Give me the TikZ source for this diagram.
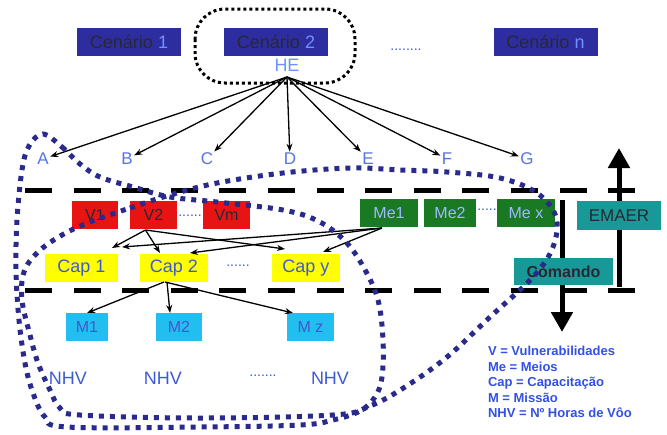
\documentclass[tikz,border=0pt]{standalone}
\usepackage{fontspec}
\setmainfont{Liberation Sans}
\usetikzlibrary{arrows.meta,calc}
\definecolor{cenbox}{RGB}{45,45,160}
\definecolor{cendark}{RGB}{40,40,50}
\definecolor{cenlight}{RGB}{110,145,255}
\definecolor{letblue}{RGB}{85,115,230}
\definecolor{vred}{RGB}{232,20,20}
\definecolor{megreen}{RGB}{25,122,35}
\definecolor{metext}{RGB}{160,185,255}
\definecolor{teal}{RGB}{25,152,152}
\definecolor{capyel}{RGB}{255,255,0}
\definecolor{captext}{RGB}{60,90,215}
\definecolor{mcyan}{RGB}{35,190,240}
\definecolor{mtext}{RGB}{70,85,205}
\definecolor{dotblue}{RGB}{42,42,140}
\definecolor{legblue}{RGB}{50,80,230}
\newcommand\myfs[1]{\fontsize{#1}{#1}\selectfont}
\begin{document}
\begin{tikzpicture}[x=1pt,y=-1pt,
  every node/.style={inner sep=0pt, outer sep=0pt},
  cenbx/.style={fill=cenbox, minimum width=104pt, minimum height=28pt, font=\myfs{18}},
  letter/.style={text=letblue, font=\myfs{17}, inner sep=1.5pt},
  vbox/.style={fill=vred, minimum height=28pt, text=cendark, font=\myfs{16}},
  mebox/.style={fill=megreen, minimum height=28pt, text=metext, font=\myfs{16}},
  tealbox/.style={fill=teal, text=cendark, font=\myfs{17}},
  capbox/.style={fill=capyel, minimum height=28pt, text=captext, font=\myfs{18}},
  mbox/.style={fill=mcyan, minimum height=28pt, text=mtext, font=\myfs{16}},
  nhv/.style={text=captext, font=\myfs{18}},
  dots/.style={text=captext, font=\myfs{14}},
  arr/.style={-{Stealth[length=8pt,width=6pt]}, line width=1.3pt, black},
  dashline/.style={line width=5pt, dash pattern=on 27pt off 21.6pt},
  bigarr/.style={line width=5pt, -{Triangle[length=20pt,width=21pt]}},
  bdot/.style={line width=5pt, draw=dotblue, dash pattern=on 5pt off 6pt},
  kdot/.style={line width=3pt, dash pattern=on 3pt off 3pt}
]
\useasboundingbox (0,0) rectangle (667,434);

% dashed horizontal lines
\coordinate (d1a) at (25,190); \coordinate (d1b) at (640,190);
\coordinate (d2a) at (25,290); \coordinate (d2b) at (640,290);
\draw[dashline] (d1a) -- (d1b);
\draw[dashline] (d2a) -- (d2b);

% big vertical arrows
\coordinate (downs) at (562,200); \coordinate (downe) at (562,332);
\coordinate (ups) at (619,287); \coordinate (upe) at (619,148);
\draw[bigarr] (downs) -- (downe);
\draw[bigarr] (ups) -- (upe);

% scenarios
\node[cenbx] (cen1) at (129,42) {{\color{cendark}Cenário} {\color{cenlight}1}};
\node[cenbx] (cen2) at (276,42) {{\color{cendark}Cenário} {\color{cenlight}2}};
\node[cenbx] (cenn) at (545.5,42) {{\color{cendark}Cenário} {\color{cenlight}n}};
\node[dots] (cendots) at (406,50) {........};
\node[text=cenlight, font=\myfs{18}] (he) at (287,65) {HE};
\coordinate (hub) at (287,77);

% letters
\node[letter] (A) at (43,159) {A};
\node[letter] (B) at (127,159) {B};
\node[letter] (C) at (207,159) {C};
\node[letter] (D) at (290,159) {D};
\node[letter] (E) at (368,159) {E};
\node[letter] (F) at (447,159) {F};
\node[letter] (G) at (527,159) {G};
\foreach \l in {A,B,C,D,E,F,G} \draw[arr] (hub) -- (\l);

% vulnerabilities
\node[vbox, minimum width=46pt] (v1) at (95,215) {V1};
\node[vbox, minimum width=47pt] (v2) at (153.5,215) {V2};
\node[vbox, minimum width=47pt] (vm) at (226.5,215) {Vm};
\node[dots] (vdots) at (190,216) {......};

% means
\node[mebox, minimum width=58pt] (me1) at (389,213) {Me1};
\node[mebox, minimum width=52pt] (me2) at (450,213) {Me2};
\node[mebox, minimum width=58pt] (mex) at (526,213) {Me x};
\node[dots] (medots) at (487,210) {.....};

% command boxes
\node[tealbox, minimum width=84pt, minimum height=29pt] (emaer) at (619,215.5) {EMAER};
\node[tealbox, minimum width=99pt, minimum height=27pt, font=\bfseries\myfs{16}] (comando) at (563.5,271.5) {Comando};

% capacities
\node[capbox, minimum width=73pt] (cap1) at (81.5,268) {Cap 1};
\node[capbox, minimum width=68pt] (cap2) at (174,268) {Cap 2};
\node[capbox, minimum width=68pt] (capy) at (306,268) {Cap y};
\node[dots] (capdots) at (238,266) {......};

% missions
\node[mbox, minimum width=42pt] (m1) at (87,327) {M1};
\node[mbox, minimum width=46pt] (m2) at (179,327) {M2};
\node[mbox, minimum width=47pt] (mz) at (310.5,327) {M z};

% NHV
\node[nhv] (n1) at (68,378) {NHV};
\node[nhv] (n2) at (163,378) {NHV};
\node[dots] (ndots) at (263,376) {.......};
\node[nhv] (n3) at (330,378) {NHV};

% legend
\node[anchor=north west, align=left, text=legblue, font=\bfseries\fontsize{13}{15.6}\selectfont] (legend) at (488,346)
{V = Vulnerabilidades\\Me = Meios\\Cap = Capacitação\\M = Missão\\NHV = Nº Horas de Vôo};

% V / Me to Cap arrows
\coordinate (v2s) at ($(v2.south)+(-8,1)$);
\coordinate (me1s) at ($(me1.south)+(-7,1)$);
\draw[arr] (v2s) -- ($(cap1.north east)+(-6,-6)$);
\draw[arr] (v2s) -- ($(cap2.north)+(-14,-1)$);
\draw[arr] (v2s) -- ($(capy.north west)+(13,-5)$);
\draw[arr] (me1s) -- ($(cap1.north east)+(4,-7)$);
\draw[arr] (me1s) -- ($(cap2.north east)+(-18,-1)$);
\draw[arr] (me1s) -- ($(capy.north east)+(-17,-2)$);

% Cap 2 to missions
\coordinate (c2s) at ($(cap2.south)+(-10,0)$);
\draw[arr] (c2s) -- (m1.north);
\draw[arr] ($(cap2.south)+(-7,0)$) -- ($(m2.north)+(-9,0)$);
\draw[arr] ($(cap2.south)+(-9,0)$) -- ($(mz.north west)+(6,0)$);

% blue dotted loops
\draw[bdot] plot[smooth cycle, tension=0.6] coordinates {
 (90,222) (130,208) (170,195) (217,183) (283,173) (350,168) (400,170) (447,172)
 (500,178) (537,193) (556,217) (553,247) (533,277) (490,317) (447,357) (405,387)
 (370,406) (333,415) (200,418) (80,415) (60,408) (50,390) (38,363) (30,335)
 (22,300) (24,272) (38,252) (62,235)};
\draw[bdot] plot[smooth cycle, tension=0.6] coordinates {
 (43,134) (62,147) (80,164) (100,177) (133,187) (170,197) (217,202) (283,210)
 (318,221) (345,241) (364,268) (378,300) (383,340) (382,377) (375,397) (360,411)
 (333,420) (300,425) (200,427) (67,427) (45,417) (33,393) (25,363) (19,320)
 (16,270) (17,220) (22,170) (29,146)};

% black dotted loop around scenario 2
\draw[kdot, rounded corners=30pt] (195,9) rectangle (355,83);
\end{tikzpicture}
\end{document}
